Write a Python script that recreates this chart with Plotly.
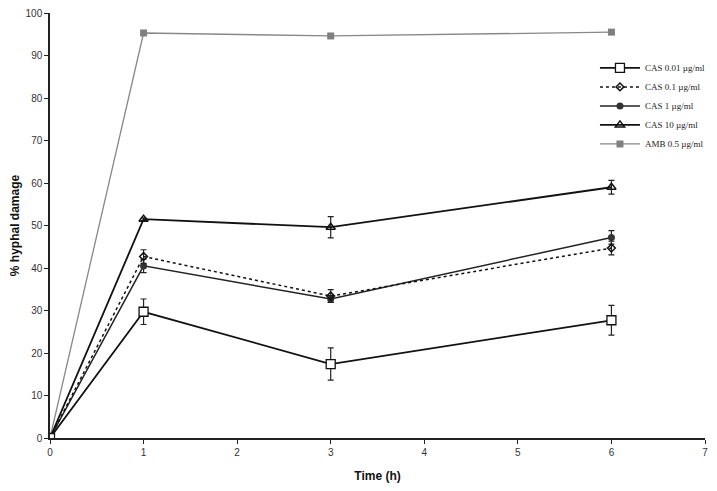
import plotly.graph_objects as go

# time points (h)
time_h = [0, 1, 3, 6]

# % hyphal damage
cas_001 = [0, 29.7, 17.4, 27.7]
cas_001_err = [0, 3.0, 3.8, 3.5]
cas_01 = [0, 42.7, 33.4, 44.7]
cas_01_err = [0, 1.6, 1.5, 1.6]
cas_1 = [0, 40.5, 32.7, 47.2]
cas_1_err = [0, 1.6, 0.8, 1.6]
cas_10 = [0, 51.5, 49.6, 59.0]
cas_10_err = [0, 0.3, 2.5, 1.6]
amb_05 = [0, 95.3, 94.6, 95.5]

x_ticks = [0, 1, 2, 3, 4, 5, 6, 7]
y_ticks = [0, 10, 20, 30, 40, 50, 60, 70, 80, 90, 100]


def err(vals):
    return dict(type='data', array=vals, visible=True, color='#222',
                thickness=1.2, width=3)


fig = go.Figure()

# drawn back to front; legend reversed so CAS 0.01 is listed first
fig.add_trace(go.Scatter(
    x=time_h, y=amb_05, name='AMB 0.5 µg/ml', mode='lines+markers',
    line=dict(color='#888', width=1.3),
    marker=dict(symbol='square', size=7, color='#808080')))
fig.add_trace(go.Scatter(
    x=time_h, y=cas_10, name='CAS 10 µg/ml', mode='lines+markers',
    line=dict(color='#111', width=1.8), error_y=err(cas_10_err),
    marker=dict(symbol='triangle-up-open', size=8, color='#111',
                line=dict(width=1.5))))
fig.add_trace(go.Scatter(
    x=time_h, y=cas_1, name='CAS 1 µg/ml', mode='lines+markers',
    line=dict(color='#222', width=1.5), error_y=err(cas_1_err),
    marker=dict(symbol='circle', size=7, color='#333')))
fig.add_trace(go.Scatter(
    x=time_h, y=cas_01, name='CAS 0.1 µg/ml', mode='lines+markers',
    line=dict(color='#111', width=1.5, dash='dot'), error_y=err(cas_01_err),
    marker=dict(symbol='diamond-open', size=6, color='#111',
                line=dict(width=1.5))))
fig.add_trace(go.Scatter(
    x=time_h, y=cas_001, name='CAS 0.01 µg/ml', mode='lines+markers',
    line=dict(color='#111', width=1.8), error_y=err(cas_001_err),
    marker=dict(symbol='square', size=9, color='white',
                line=dict(width=1.3, color='#111'))))

axis_common = dict(
    showline=True, linecolor='#222', linewidth=1.5, ticks='outside',
    ticklen=4, tickwidth=1.2, tickcolor='#222', showgrid=False,
    zeroline=False, automargin=False, ticklabeloverflow='allow',
    tickfont=dict(family='Liberation Sans', size=10, color='#333'))

fig.update_xaxes(range=[0, 7], tickvals=x_ticks, **axis_common,
                 title=dict(text='<b>Time (h)</b>',
                            font=dict(family='Liberation Sans', size=12, color='#111')))
fig.update_yaxes(range=[0, 100], tickvals=y_ticks, **axis_common,
                 title=dict(text='<b>% hyphal damage</b>',
                            font=dict(family='Liberation Sans', size=12, color='#111')))

fig.update_layout(
    width=717, height=491,
    margin=dict(l=42, r=20, t=5, b=61),
    plot_bgcolor='white', paper_bgcolor='white',
    legend=dict(x=0.832, y=0.905, xanchor='left', yanchor='top',
                traceorder='reversed', bgcolor='rgba(0,0,0,0)',
                font=dict(family='Liberation Serif', size=9, color='#222'),
                itemwidth=40, tracegroupgap=0),
)

fig.write_html("out.html")
